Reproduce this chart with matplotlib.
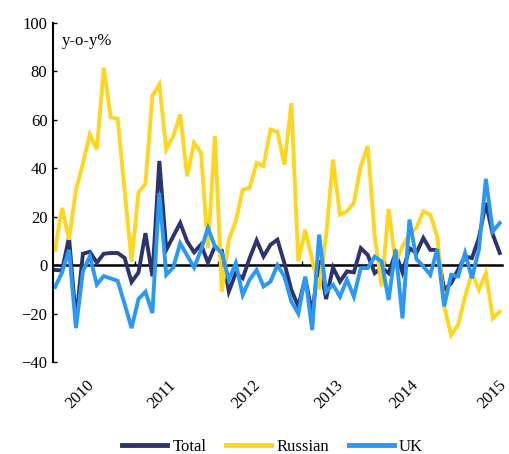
import matplotlib
matplotlib.use("Agg")
import matplotlib.pyplot as plt
import numpy as np

plt.rcParams['font.family'] = ['Liberation Serif', 'DejaVu Serif']

# monthly y-o-y growth, %
total = [-2, -2.2, 11.5, -23, 4.7, 5.5, 1, 4.7, 5, 5, 3, -7, -3, 13.2, -4.6, 43,
         6.3, 11.9, 17.4, 9.8, 5.3, 8.5, 1, 7.7, 6, -10.9, -3.3, -5.4, 2.9, 10.2,
         3.6, 8.4, 10.5, 0.8, -10.2, -17, -5.4, -20, 2, -14, -1, -6.8, -2.6, -3,
         7, 4.2, -3.3, -1, -3.3, 5, -3, 7, 5, 11.2, 6.3, 6.3, -10.2, -7.5, -1.9,
         3.6, 2.9, 11.2, 25.7, 12.6, 5]
russian = [6.3, 23.6, 10.5, 31, 42, 54, 47.7, 81.5, 61, 60.4, 31, 1.5, 30, 33.6,
           69.8, 74.6, 47.7, 53.2, 62.2, 36.7, 50.5, 46.4, 7, 53.3, -10.9, 10.5,
           18, 31.2, 31.9, 42.2, 40.9, 56, 55, 41.5, 66.8, 1.5, 14.6, 2, -10, 12,
           43.6, 20.8, 22.2, 25.7, 40.9, 49.1, 12, -8.8, 23.2, 1, 7.7, 13, 15.3,
           22.2, 20.8, 11.9, -17, -28.9, -24.7, -13, -3.3, -10.2, -3.3, -22, -19.2]
uk = [-9, -3, 6.3, -26, -2.5, 3.6, -8, -4.5, -5.5, -6.5, -16, -26, -14, -11,
      -19.8, 29.8, -4, -1, 9, 4, -1, 6.3, 15.3, 7.7, 5, -6, 0.8, -12.3, -6, -2,
      -8.8, -6.8, 0, -4.7, -15, -20, -4.7, -26.8, 12.6, -11, -8.1, -13, -6, -13,
      -1.2, -1.2, 3.5, 1.5, -14.4, 6.5, -22, 18.8, 2.5, -0.5, -4, 6.6, -17, -4,
      -4.7, 5, -5.4, 6.5, 35.6, 13.9, 17.4]
years = ['2010', '2011', '2012', '2013', '2014', '2015']
year_pos = [4.4, 16.2, 28.4, 40.3, 51.1, 63.8]

x = np.arange(len(total))
fs = 12

fig = plt.figure(figsize=(5.1, 4.54), dpi=100)
ax = fig.add_axes([0.104, 0.2026, 0.88, 0.747])

ax.plot(x, total, color='#2d336b', lw=2.8, label='Total', solid_joinstyle='miter')
ax.plot(x, russian, color='#ffd61f', lw=2.8, label='Russian', solid_joinstyle='miter')
ax.plot(x, uk, color='#2a98f5', lw=2.8, label='UK', solid_joinstyle='miter')

ax.set_ylim(-40, 100)
ax.set_xlim(-0.3, 64.3)
ax.set_yticks(range(-40, 101, 20))
ax.tick_params(axis='y', direction='in', length=3, width=1, labelsize=fs, pad=4)

for s in ['top', 'right']:
    ax.spines[s].set_visible(False)
ax.spines['left'].set_linewidth(1.5)
# category axis sits on the zero line
ax.spines['bottom'].set_position(('data', 0))
ax.spines['bottom'].set_linewidth(1.8)
ax.spines['bottom'].set_zorder(1)
ax.set_xticks(np.arange(11.5, 64, 12))
ax.set_xticklabels([])
ax.tick_params(axis='x', direction='in', length=3, width=1)

for yr, p in zip(years, year_pos):
    ax.text(p, -0.045, yr, transform=ax.get_xaxis_transform(), rotation=45,
            ha='right', va='top', rotation_mode='anchor', fontsize=fs,
            clip_on=False)

ax.text(0.02, 0.947, 'y-o-y%', transform=ax.transAxes, fontsize=fs, va='center')

fig.legend(loc='center', bbox_to_anchor=(0.535, 0.015), ncol=3, frameon=False,
           fontsize=fs, handlelength=2.7, handletextpad=0.3, columnspacing=1.2)
for ln in fig.legends[0].get_lines():
    ln.set_linewidth(3.5)

fig.savefig('out.png', dpi=100)
